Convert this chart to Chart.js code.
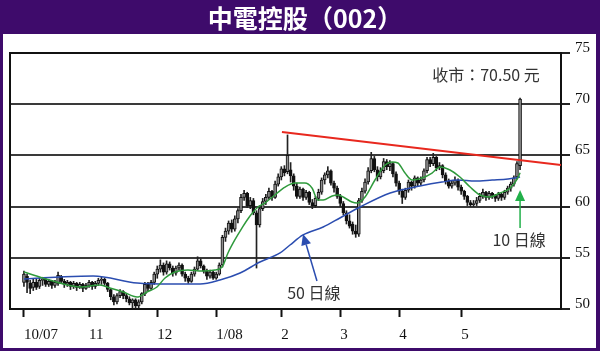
<!DOCTYPE html>
<html><head><meta charset="utf-8">
<script src="https://cdn.jsdelivr.net/npm/chart.js@4.4.0/dist/chart.umd.min.js"></script>
<style>html,body{margin:0;padding:0;background:#3e0b6b;}canvas{display:block;}</style>
</head><body>
<canvas id="c" width="600" height="351"></canvas>
<script>
const TITLE = '中電控股（002）';
const monthIdx = [0, 21, 43, 62, 83, 102, 121, 141];
const monthLabels = ['10/07', '11', '12', '1/08', '2', '3', '4', '5'];

const opens = [52.6,53.2,52.5,52.1,52.6,52.2,52.8,52.9,52.4,52.7, 52.3,52.5,53.2,52.7,52.4,52.6,52.2,52.5,52.1,52.4,
 52.0,52.3,52.6,52.2,52.5,52.8,52.9,52.5,51.9,51.2, 50.7,51.3,51.7,51.3,51.0,50.6,50.9,50.3,50.7,51.5,
 52.4,52.0,52.6,53.4,53.9,54.3,53.6,54.4,54.0,53.5, 54.0,54.3,53.4,53.0,52.7,53.4,53.9,54.7,54.2,53.7,
 53.2,53.6,53.0,53.4,54.3,57.0,57.6,58.4,57.8,58.8, 59.6,60.9,61.3,60.1,60.6,59.4,58.2,59.8,60.5,60.9,
 61.5,60.9,62.2,62.9,63.7,63.4,63.6,63.0,62.0,61.0, 61.7,60.9,61.4,60.4,60.1,60.8,61.4,62.6,63.1,63.5,
 62.3,61.8,61.0,60.3,59.4,58.6,58.3,57.6,57.3,60.6, 61.5,62.4,63.5,64.7,63.6,62.9,63.5,64.4,63.9,64.2,
 63.2,62.3,61.5,60.9,61.6,62.4,62.0,62.8,62.3,62.6, 63.5,64.6,64.2,64.8,63.8,64.0,63.1,62.5,62.0,62.3,
 62.6,61.9,61.5,61.0,60.4,60.2,60.3,60.6,61.0,61.4, 60.9,61.3,61.1,60.8,61.2,60.9,61.4,61.8,62.2,62.9,
 64.0];
const highs = [53.7,53.4,52.8,52.9,52.9,53.0,53.1,53.0,52.9,52.8, 52.8,53.6,53.3,52.9,52.8,52.7,52.7,52.6,52.6,52.5,
 52.5,52.8,52.7,52.7,53.0,53.1,53.0,52.6,52.0,51.4, 51.5,51.9,51.8,51.5,51.2,51.0,51.0,50.9,51.6,52.6,
 52.6,52.8,53.6,54.2,54.8,54.5,54.7,54.6,54.2,54.2, 54.5,54.4,53.6,53.2,53.6,54.1,55.1,54.9,54.3,53.9,
 53.8,53.7,53.6,54.5,57.2,57.9,58.6,58.7,59.1,59.8, 61.2,61.6,61.4,60.9,60.8,59.6,60.1,60.8,61.2,61.8,
 61.6,62.5,63.2,63.9,64.0,67.0,64.3,63.2,62.3,61.9, 61.8,61.6,61.5,60.7,61.0,61.7,62.8,63.3,63.9,63.6,
 62.5,62.0,61.2,60.5,59.6,59.2,58.5,58.2,60.8,61.8, 62.7,63.8,65.3,64.9,63.9,63.8,64.7,64.6,64.5,64.3,
 63.4,62.5,61.7,61.8,62.6,62.5,63.0,62.9,62.9,63.7, 64.8,64.8,65.2,64.9,64.3,64.1,63.3,62.7,62.5,62.9,
 62.7,62.1,61.6,61.1,60.6,60.6,60.9,61.3,61.7,61.5, 61.5,61.4,61.2,61.4,61.3,61.6,62.0,62.4,63.0,64.4,
 70.6];
const lows = [52.2,51.6,51.5,51.8,51.9,52.0,52.3,52.2,52.2,52.0, 52.1,52.3,52.5,52.1,52.2,51.9,52.0,51.8,52.0,51.7,
 51.9,52.1,51.9,52.0,52.3,52.4,52.3,51.7,50.9,50.4, 50.5,51.1,51.0,50.7,50.4,50.1,50.1,50.1,50.5,51.3,
 51.8,51.9,52.4,53.0,53.6,53.3,53.4,53.8,53.2,53.3, 53.8,53.2,52.7,52.5,52.6,53.2,53.8,54.0,53.5,52.9,
 53.0,52.9,52.9,53.3,54.1,56.6,57.3,57.5,57.6,58.4, 59.4,60.6,59.9,59.8,59.2,54.0,58.0,59.6,60.2,60.7,
 60.6,60.8,62.0,62.6,63.0,63.2,62.4,61.6,60.8,60.8, 60.6,60.7,60.2,59.8,59.9,60.6,61.2,62.2,62.8,62.1,
 61.4,60.8,60.0,59.2,58.3,57.9,57.3,57.0,57.1,60.4, 61.3,62.2,63.3,63.4,62.5,62.7,63.3,63.6,63.5,62.9,
 62.0,61.2,60.3,60.7,61.4,61.6,61.8,62.0,62.1,62.4, 63.3,63.9,64.0,63.5,63.6,62.8,62.2,61.8,61.8,62.1,
 61.6,61.2,60.7,60.1,60.0,60.0,60.1,60.4,60.8,60.6, 60.7,60.8,60.5,60.6,60.6,60.7,61.2,61.5,62.0,62.7,
 63.6];
const closes = [53.4,52.6,52.0,52.6,52.1,52.8,52.9,52.4,52.7,52.3, 52.6,53.3,52.7,52.4,52.6,52.2,52.5,52.1,52.4,52.0,
 52.3,52.6,52.2,52.5,52.8,52.9,52.5,51.9,51.2,50.7, 51.3,51.7,51.3,51.0,50.6,50.9,50.3,50.7,51.5,52.4,
 52.0,52.6,53.4,53.9,54.3,53.6,54.4,54.0,53.5,54.0, 54.3,53.4,53.0,52.7,53.4,53.9,54.7,54.2,53.7,53.2,
 53.6,53.0,53.4,54.3,57.0,57.6,58.4,57.8,58.8,59.6, 60.9,61.3,60.1,60.6,59.4,58.2,59.8,60.5,60.9,61.5,
 60.9,62.2,62.9,63.7,63.3,65.0,63.0,62.0,61.0,61.7, 60.9,61.4,60.4,60.1,60.8,61.4,62.6,63.1,63.5,62.3,
 61.8,61.0,60.3,59.4,58.6,58.1,57.6,57.3,60.6,61.5, 62.4,63.5,64.7,63.6,62.9,63.5,64.4,63.9,64.2,63.2,
 62.3,61.5,60.9,61.6,62.4,62.0,62.8,62.3,62.6,63.5, 64.6,64.2,64.8,63.8,64.0,63.1,62.5,62.0,62.3,62.6,
 61.9,61.5,61.0,60.4,60.2,60.3,60.6,61.0,61.4,60.9, 61.3,61.1,60.8,61.2,60.9,61.4,61.8,62.2,62.8,64.2,
 70.5];

const ma10Idx = [0,6,14,18,24.5,27.7,32,36.5,39.7,42.9,45.5,48.7,52.9,57.4,61.6,63.9,65.8,68,70.3,72.9,75.5,77.7,80.9,84.2,87.4,90.6,92.9,94.8,96.5,99.4,101.3,103.5,105.8,107.4,110,113.2,116.5,118.7,120.6,122.9,125.2,128.4,131.6,134.2,137.4,140.6,143.9,147.1,150.3,153.5,156.8,159.3,160];
const ma10Val = [53.61,53.03,52.34,52.15,52.34,52.05,51.66,51.17,51.66,52.15,53.03,53.61,53.81,53.71,53.81,54.10,55.47,56.74,57.90,59.08,59.96,60.35,61.13,61.91,62.30,62.30,61.82,60.64,60.64,61.04,61.13,60.84,60.45,60.35,60.94,62.60,64.06,64.36,64.26,63.28,62.60,62.79,63.28,63.87,63.57,62.89,61.91,61.13,60.94,61.33,61.80,62.80,63.30];
const ma50Idx = [0,11.6,22.3,36.5,47.1,56.8,63.2,69.7,76.1,82.6,85.8,90,96.5,101.9,108.4,118.1,127.7,134.8,140,145.5,151,156.1,160];
const ma50Val = [52.93,53.12,53.22,52.54,52.44,52.44,52.83,53.52,54.59,55.47,56.25,57.23,58.01,58.89,59.96,61.33,62.01,62.40,62.60,62.50,62.60,62.70,62.89];
const trendIdx = [83.2, 173.2];
const trendVal = [67.29, 64.06];

const X_MIN = -4.5, X_MAX = 173.2;
const UP = '#8e8e8e', DOWN = '#111111';

const idx = opens.map((_, i) => i);
const wickData = idx.map(i => ({x: i, y: [lows[i], highs[i]]}));
const bodyData = idx.map(i => ({x: i, y: [opens[i], closes[i]]}));
const bodyColors = idx.map(i => closes[i] >= opens[i] ? UP : DOWN);
const ma10 = ma10Idx.map((x, k) => ({x, y: ma10Val[k]}));
const ma50 = ma50Idx.map((x, k) => ({x, y: ma50Val[k]}));
const trend = trendIdx.map((x, k) => ({x, y: trendVal[k]}));

const notes = [
  {text: '收市：70.50 元', i: 149, v: 72.85},
  {text: '50 日線', i: 93.5, v: 51.56},
  {text: '10 日線', i: 159.7, v: 56.74}
];
const arrows = [
  {from: [94.5, 52.73], to: [90, 57.32], color: '#2b4db0'},
  {from: [160, 57.9], to: [160, 61.62], color: '#22b04a'}
];

const bgPlugin = {
  id: 'bg',
  beforeDraw(chart) {
    const c = chart.ctx;
    c.save();
    c.fillStyle = '#3e0b6b';
    c.fillRect(0, 0, chart.width, chart.height);
    c.fillStyle = '#ffffff';
    c.fillRect(3, 34, 593, 314);
    c.restore();
  },
  beforeDatasetsDraw(chart) {
    const a = chart.chartArea, c = chart.ctx;
    c.save();
    c.strokeStyle = '#111';
    c.lineWidth = 2;
    c.strokeRect(a.left, a.top, a.right - a.left, a.bottom - a.top);
    c.restore();
  },
  afterDraw(chart) {
    const c = chart.ctx, xs = chart.scales.x, ys = chart.scales.y;
    c.save();
    c.font = '16px "Noto Sans CJK TC"';
    c.fillStyle = '#333';
    c.textAlign = 'center';
    c.textBaseline = 'middle';
    notes.forEach(n => c.fillText(n.text, xs.getPixelForValue(n.i), ys.getPixelForValue(n.v)));
    arrows.forEach(a => {
      const x1 = xs.getPixelForValue(a.from[0]), y1 = ys.getPixelForValue(a.from[1]);
      const x2 = xs.getPixelForValue(a.to[0]), y2 = ys.getPixelForValue(a.to[1]);
      const ang = Math.atan2(y2 - y1, x2 - x1);
      const hl = 11, hw = 5;
      const bx = x2 - hl * Math.cos(ang), by = y2 - hl * Math.sin(ang);
      c.strokeStyle = a.color; c.fillStyle = a.color; c.lineWidth = 1.5;
      c.beginPath(); c.moveTo(x1, y1); c.lineTo(bx, by); c.stroke();
      c.beginPath();
      c.moveTo(x2, y2);
      c.lineTo(bx + hw * Math.sin(ang), by - hw * Math.cos(ang));
      c.lineTo(bx - hw * Math.sin(ang), by + hw * Math.cos(ang));
      c.closePath(); c.fill();
    });
    c.restore();
  }
};

new Chart(document.getElementById('c'), {
  type: 'bar',
  data: {
    datasets: [
      {type: 'line', data: trend, borderColor: '#e8281e', borderWidth: 2, pointRadius: 0, order: -3},
      {type: 'line', data: ma10, borderColor: '#2f9a3c', borderWidth: 1.5, pointRadius: 0, cubicInterpolationMode: 'monotone', order: -2},
      {type: 'line', data: ma50, borderColor: '#2b4db0', borderWidth: 1.5, pointRadius: 0, cubicInterpolationMode: 'monotone', order: -1},
      {type: 'bar', data: bodyData, backgroundColor: bodyColors, borderColor: '#111', borderWidth: 1, borderSkipped: false, barThickness: 3, grouped: false, minBarLength: 1, order: 0},
      {type: 'bar', data: wickData, backgroundColor: '#222', barThickness: 1, grouped: false, order: 1}
    ]
  },
  options: {
    responsive: false, animation: false, events: [],
    layout: {padding: {left: 10, right: 0, top: 0, bottom: 0}},
    plugins: {
      legend: {display: false},
      tooltip: {enabled: false},
      title: {display: true, text: TITLE, color: '#ffffff',
        font: {family: '"Noto Sans CJK TC"', size: 25, weight: 'bold', lineHeight: 1.1},
        padding: {top: 5, bottom: 20.5}}
    },
    scales: {
      x: {type: 'linear', min: X_MIN, max: X_MAX, offset: false,
        afterBuildTicks: s => { s.ticks = monthIdx.map(v => ({value: v})); },
        afterFit: s => { s.height = 42; },
        grid: {drawOnChartArea: false, drawTicks: true, tickLength: 8, tickWidth: 2, tickColor: '#111', offset: false},
        border: {display: false},
        ticks: {autoSkip: false, maxRotation: 0, align: 'start', padding: 9, color: '#111',
          font: {family: '"Liberation Serif"', size: 15},
          callback: v => { const k = monthIdx.indexOf(v); return k >= 0 ? monthLabels[k] : ''; }}
      },
      y: {position: 'right', min: 50, max: 75,
        afterFit: s => { s.width = 39; },
        grid: {color: '#3a3a3a', lineWidth: 2, drawTicks: true, tickLength: 9, tickColor: '#222', tickWidth: 2},
        border: {display: false},
        ticks: {stepSize: 5, padding: 5, labelOffset: -5, color: '#111',
          font: {family: '"Liberation Serif"', size: 15}}
      }
    }
  },
  plugins: [bgPlugin]
});
</script>
</body></html>
